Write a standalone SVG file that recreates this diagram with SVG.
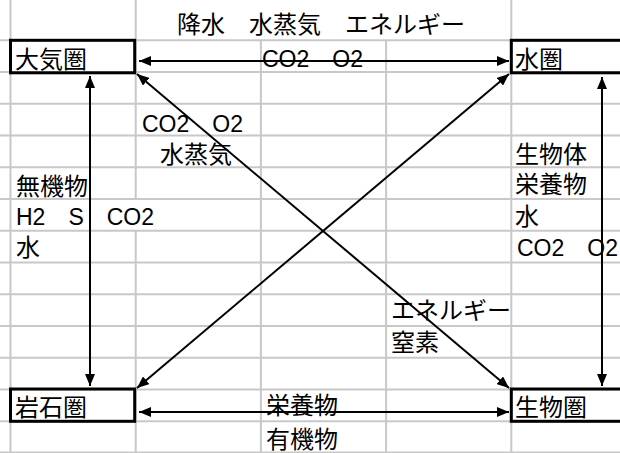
<svg xmlns="http://www.w3.org/2000/svg" width="620" height="453" viewBox="0 0 620 453">
<style>
.grid line{stroke:#c8c8c8;stroke-width:2}
.box{fill:none;stroke:#000;stroke-width:3}
text{font-family:"Liberation Sans","Noto Sans CJK JP",sans-serif;font-size:24px;fill:#000}
text.lat{font-size:23px}
.conn line{stroke:#000;stroke-width:2;marker-start:url(#ah);marker-end:url(#ah)}
</style>
<defs>
<marker id="ah" markerUnits="userSpaceOnUse" markerWidth="12" markerHeight="10" refX="12" refY="5" orient="auto-start-reverse" viewBox="0 0 12 10">
<path d="M0,0 L12,5 L0,10 z" fill="#000"/>
</marker>
</defs>
<rect width="620" height="453" fill="#fff"/>
<g class="grid" id="grid">
<line x1="0" y1="40.3" x2="620" y2="40.3"/>
<line x1="0" y1="72.05" x2="620" y2="72.05"/>
<line x1="0" y1="103.8" x2="620" y2="103.8"/>
<line x1="0" y1="135.55" x2="620" y2="135.55"/>
<line x1="0" y1="167.3" x2="620" y2="167.3"/>
<line x1="0" y1="199.05" x2="620" y2="199.05"/>
<line x1="0" y1="230.8" x2="620" y2="230.8"/>
<line x1="0" y1="262.55" x2="620" y2="262.55"/>
<line x1="0" y1="294.3" x2="620" y2="294.3"/>
<line x1="0" y1="326.05" x2="620" y2="326.05"/>
<line x1="0" y1="357.8" x2="620" y2="357.8"/>
<line x1="0" y1="389.55" x2="620" y2="389.55"/>
<line x1="0" y1="421.3" x2="620" y2="421.3"/>
<line x1="0" y1="452.5" x2="620" y2="452.5"/>
<line x1="10.5" y1="0" x2="10.5" y2="453"/>
<line x1="135.7" y1="0" x2="135.7" y2="199.05"/>
<line x1="135.7" y1="230.8" x2="135.7" y2="453"/>
<line x1="260.9" y1="40.3" x2="260.9" y2="453"/>
<line x1="386.1" y1="40.3" x2="386.1" y2="453"/>
<line x1="511.3" y1="0" x2="511.3" y2="453"/>
</g>
<g id="atmosphere">
<rect class="box" x="10.5" y="40.3" width="124.2" height="32.5"/>
<text x="15" y="68">大気圏</text>
</g>
<g id="hydrosphere">
<rect class="box" x="511.3" y="40.3" width="140" height="32.5"/>
<text x="515" y="68">水圏</text>
</g>
<g id="lithosphere">
<rect class="box" x="10.5" y="389" width="124.2" height="32.3"/>
<text x="15" y="416">岩石圏</text>
</g>
<g id="biosphere">
<rect class="box" x="511.3" y="389" width="140" height="32.3"/>
<text x="515" y="416">生物圏</text>
</g>
<g id="labels">
<text x="177" y="33">降水　水蒸気　エネルギー</text>
<text class="lat" x="262" y="67">CO2　O2</text>
<text class="lat" x="142" y="132">CO2　O2</text>
<text x="160" y="163">水蒸気</text>
<text x="16" y="195">無機物</text>
<text class="lat" x="16" y="225">H2　S　CO2</text>
<text x="16" y="256">水</text>
<text x="515" y="163">生物体</text>
<text x="515" y="193">栄養物</text>
<text x="515" y="225">水</text>
<text class="lat" x="517" y="256">CO2　O2</text>
<text x="391" y="319">エネルギー</text>
<text x="391" y="351">窒素</text>
<text x="266" y="414">栄養物</text>
<text x="266" y="448">有機物</text>
</g>
<g class="conn" id="connectors">
<line x1="139" y1="61" x2="509" y2="61"/>
<line x1="139" y1="412" x2="509" y2="412"/>
<line x1="90" y1="76" x2="90" y2="386"/>
<line x1="602" y1="77" x2="602" y2="386"/>
<line x1="137" y1="74" x2="509" y2="388"/>
<line x1="137" y1="388" x2="509" y2="74"/>
</g>
</svg>
